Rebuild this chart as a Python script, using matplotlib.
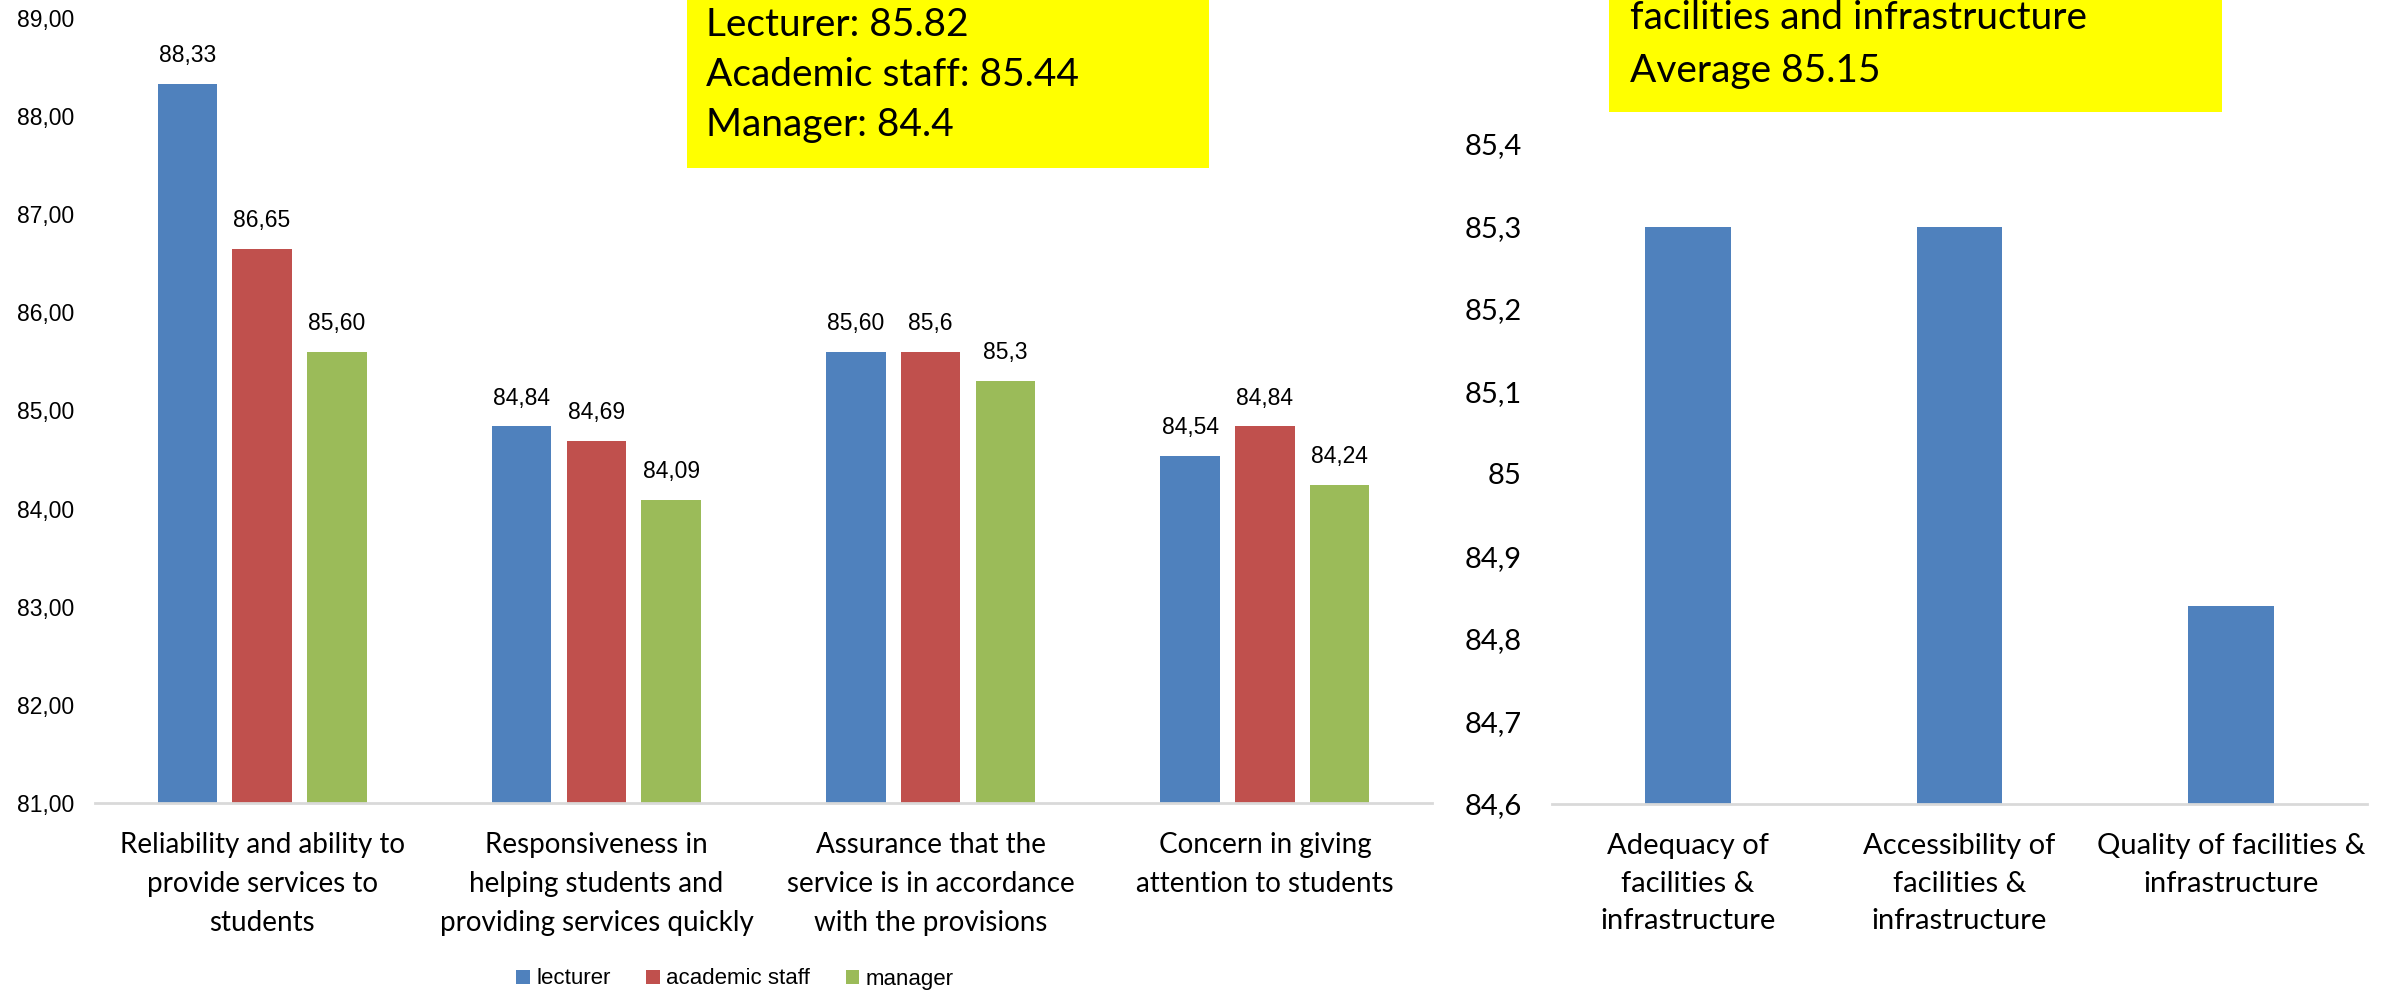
import matplotlib
matplotlib.use("Agg")
import matplotlib.pyplot as plt
from matplotlib.patches import Rectangle
import numpy as np

# ---------------- data ----------------
left_categories = [
    "Reliability and ability to\nprovide services to\nstudents",
    "Responsiveness in\nhelping students and\nproviding services quickly",
    "Assurance that the\nservice is in accordance\nwith the provisions",
    "Concern in giving\nattention to students",
]
series_names = ["lecturer", "academic staff", "manager"]
lecturer = [88.33, 84.84, 85.60, 84.54]
academic_staff = [86.65, 84.69, 85.6, 84.84]
manager = [85.60, 84.09, 85.3, 84.24]
lecturer_labels = ["88,33", "84,84", "85,60", "84,54"]
academic_labels = ["86,65", "84,69", "85,6", "84,84"]
manager_labels = ["85,60", "84,09", "85,3", "84,24"]
left_yticks = [81, 82, 83, 84, 85, 86, 87, 88, 89]
left_yticklabels = ["81,00", "82,00", "83,00", "84,00", "85,00", "86,00", "87,00", "88,00", "89,00"]

right_categories = [
    "Adequacy of\nfacilities &\ninfrastructure",
    "Accessibility of\nfacilities &\ninfrastructure",
    "Quality of facilities &\ninfrastructure",
]
right_values = [85.3, 85.3, 84.84]
right_yticks = [84.6, 84.7, 84.8, 84.9, 85.0, 85.1, 85.2, 85.3, 85.4]
right_yticklabels = ["84,6", "84,7", "84,8", "84,9", "85", "85,1", "85,2", "85,3", "85,4"]

left_box_lines = ["Lecturer: 85.82", "Academic staff: 85.44", "Manager: 84.4"]
right_box_lines = ["facilities and infrastructure", "Average 85.15"]

colors = ["#4F81BD", "#C0504D", "#9BBB59"]
W, H = 2394, 992

fig = plt.figure(figsize=(W / 100, H / 100), dpi=100)
fig.patch.set_facecolor("white")

arial = "Liberation Sans"
calibri = "Lato"

def fx(px):
    return px / W

def fy(py):
    return 1 - py / H

# ---------------- left chart ----------------
axL = fig.add_axes([fx(95), fy(803), fx(1432) - fx(95), fy(18) - fy(803)])
x = np.arange(len(left_categories))
bw = 0.178
off = 0.2237
all_series = [lecturer, academic_staff, manager]
all_labels = [lecturer_labels, academic_labels, manager_labels]
for i, (vals, labs) in enumerate(zip(all_series, all_labels)):
    bars = axL.bar(x + (i - 1) * off, vals, width=bw, color=colors[i],
                   label=series_names[i], zorder=2)
    axL.bar_label(bars, labels=labs, padding=12, fontsize=16.5, family=arial)
axL.set_ylim(81, 89)
axL.set_xlim(-0.5, len(left_categories) - 0.5)
axL.set_yticks(left_yticks)
axL.set_yticklabels(left_yticklabels, fontsize=16.5, family=arial)
axL.set_xticks(x)
axL.set_xticklabels(left_categories, fontsize=20, family=calibri, linespacing=1.62)
axL.tick_params(axis="y", length=0, pad=15)
axL.tick_params(axis="x", length=0, pad=21)
for s in ["top", "right", "left"]:
    axL.spines[s].set_visible(False)
axL.spines["bottom"].set_color("#D9D9D9")
axL.spines["bottom"].set_linewidth(2)

# ---------------- right chart ----------------
axR = fig.add_axes([fx(1552), fy(804), fx(2367) - fx(1552), fy(144) - fy(804)])
xr = np.arange(len(right_categories))
axR.bar(xr, right_values, width=0.315, color=colors[0], zorder=2)
axR.set_ylim(84.6, 85.4)
axR.set_xlim(-0.5, len(right_categories) - 0.5)
axR.set_yticks(right_yticks)
axR.set_yticklabels(right_yticklabels, fontsize=21, family=calibri)
axR.set_xticks(xr)
axR.set_xticklabels(right_categories, fontsize=21, family=calibri, linespacing=1.55)
axR.tick_params(axis="y", length=0, pad=22)
axR.tick_params(axis="x", length=0, pad=21)
for s in ["top", "right", "left"]:
    axR.spines[s].set_visible(False)
axR.spines["bottom"].set_color("#D9D9D9")
axR.spines["bottom"].set_linewidth(2)

# ---------------- legend ----------------
handles, labels = axL.get_legend_handles_labels()
fig.legend(handles, labels, loc="center", bbox_to_anchor=(fx(735), fy(979)),
           ncol=3, frameon=False, prop={"family": arial, "size": 16},
           handlelength=0.6, handleheight=0.6, handletextpad=0.3, columnspacing=1.6)

# ---------------- yellow boxes ----------------
fig.patches.append(Rectangle((fx(687), fy(168)), fx(1209) - fx(687), fy(0) - fy(168) + 0.05,
                             transform=fig.transFigure, facecolor="#FFFF00",
                             edgecolor="none", zorder=5))
for k, line in enumerate(left_box_lines):
    fig.text(fx(706), fy(25 + 50 * k), line, fontsize=28, family=calibri,
             va="center", ha="left", zorder=6)

fig.patches.append(Rectangle((fx(1609), fy(112)), fx(2222) - fx(1609), fy(0) - fy(112) + 0.05,
                             transform=fig.transFigure, facecolor="#FFFF00",
                             edgecolor="none", zorder=5))
for k, line in enumerate(right_box_lines):
    fig.text(fx(1630), fy(18 + 53 * k), line, fontsize=28, family=calibri,
             va="center", ha="left", zorder=6)

fig.savefig("out.png", dpi=100, facecolor="white")
